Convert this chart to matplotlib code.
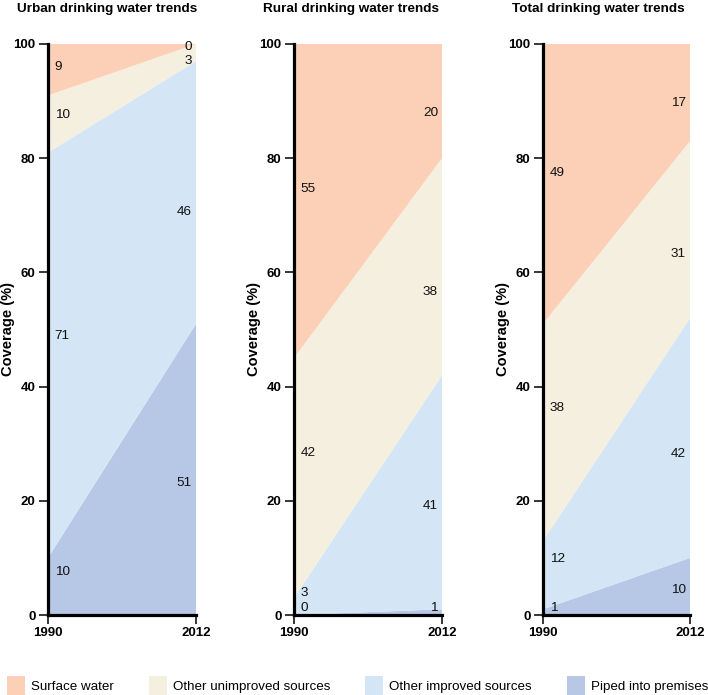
import matplotlib
matplotlib.use("Agg")
import matplotlib.pyplot as plt
from matplotlib.patches import Patch
import numpy as np

plt.rcParams['font.family'] = ['Liberation Sans', 'DejaVu Sans']

years = [1990, 2012]
categories = ["Surface water", "Other unimproved sources", "Other improved sources", "Piped into premises"]
colors = ["#FBD0B7", "#F5EFE0", "#D4E6F5", "#B6C8E6"]

panel_titles = ["Urban drinking water trends", "Rural drinking water trends", "Total drinking water trends"]

# values per panel: [1990, 2012]
urban_piped = [10, 51]
urban_improved = [71, 46]
urban_unimproved = [10, 3]
urban_surface = [9, 0]

rural_piped = [0, 1]
rural_improved = [3, 41]
rural_unimproved = [42, 38]
rural_surface = [55, 20]

total_piped = [1, 10]
total_improved = [12, 42]
total_unimproved = [38, 31]
total_surface = [49, 17]

panels = [
    (urban_piped, urban_improved, urban_unimproved, urban_surface),
    (rural_piped, rural_improved, rural_unimproved, rural_surface),
    (total_piped, total_improved, total_unimproved, total_surface),
]

W, H = 708, 695
fig = plt.figure(figsize=(W / 100, H / 100), dpi=100)

ax_lefts = [48, 294, 543]
ax_widths = [148, 148, 147]
ax_top, ax_bottom = 44, 615

stack_colors = colors[::-1]  # piped, improved, unimproved, surface

for i, series in enumerate(panels):
    l = ax_lefts[i]
    w = ax_widths[i]
    ax = fig.add_axes([l / W, (H - ax_bottom) / H, w / W, (ax_bottom - ax_top) / H])
    ax.stackplot(years, *series, colors=stack_colors, linewidth=0, edgecolor='none')
    ax.set_xlim(years[0], years[1])
    ax.set_ylim(0, 100)
    ax.set_xticks(years)
    ax.set_yticks([0, 20, 40, 60, 80, 100])
    for s in ['top', 'right']:
        ax.spines[s].set_visible(False)
    for s in ['left', 'bottom']:
        ax.spines[s].set_linewidth(2.3)
        ax.spines[s].set_color('black')
    ax.tick_params(axis='both', length=6.5, width=1.1, pad=2.5, labelsize=9.5, colors='black')
    for lab in ax.get_xticklabels() + ax.get_yticklabels():
        lab.set_fontweight('bold')
    ax.set_ylabel("Coverage (%)", fontsize=10.5, fontweight='bold')
    ax.yaxis.set_label_coords(-33 / w, 0.5)
    ax.text(-31 / w, 1 + 35 / (ax_bottom - ax_top), panel_titles[i], transform=ax.transAxes,
            ha='left', va='center', fontsize=9.7, fontweight='bold')

    # value labels
    arr = np.array(series, dtype=float)
    tops = np.cumsum(arr, axis=0)
    bots = tops - arr
    span = years[1] - years[0]
    for k in range(arr.shape[0]):
        mid0 = (bots[k, 0] + tops[k, 0]) / 2
        mid1 = (bots[k, 1] + tops[k, 1]) / 2
        yl = max(mid0 + 0.12 * (mid1 - mid0), 1.2)
        yr = max(mid1 - 0.12 * (mid1 - mid0), 1.2)
        ax.text(years[0] + 0.045 * span, yl, f"{int(arr[k, 0])}", ha='left', va='center',
                fontsize=9.7, color='#111111')
        ax.text(years[0] + 0.973 * span, yr, f"{int(arr[k, 1])}", ha='right', va='center',
                fontsize=9.7, color='#111111')

handles = [Patch(facecolor=c, edgecolor='none', label=n) for c, n in zip(colors, categories)]
fig.legend(handles=handles, loc='center left', bbox_to_anchor=(7 / W, (H - 686) / H),
           ncol=4, frameon=False, fontsize=9.6, handlelength=1.33, handleheight=1.93,
           handletextpad=0.45, columnspacing=2.65, borderpad=0, borderaxespad=0)

fig.savefig("out.png", dpi=100)
